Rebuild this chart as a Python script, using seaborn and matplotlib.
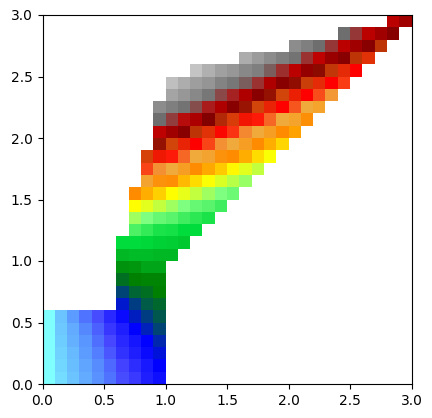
import numpy as np
import pandas as pd
import matplotlib
matplotlib.use("Agg")
import matplotlib.pyplot as plt
from matplotlib.colors import LinearSegmentedColormap
import seaborn as sns

# colour ramp, one colour per integer level
ramp = ["#80ffff", "#69beff", "#5587ff", "#4646ff", "#0000ff", "#003c82",
        "#008000", "#00dc3c", "#80ff80", "#ffff00", "#ff8c00", "#f0aa3c",
        "#ff0000", "#d2460a", "#820000", "#be0000", "#6e6e6e", "#c8c8c8"]

tick_labels = ["0.0", "0.5", "1.0", "1.5", "2.0", "2.5", "3.0"]

# first filled column of each row, bottom row first
row_start = [0, 0, 0, 0, 0, 0, 6, 6, 6, 6, 6, 6, 7, 7, 7, 7, 8, 8, 8, 9,
             9, 9, 9, 10, 10, 12, 16, 20, 24, 28]

# level of each filled cell, bottom row first
row_levels = [
    [0, 0.54, 0.92, 1.36, 1.82, 2.31, 2.92, 3.2, 3.57, 3.8],
    [0, 0.62, 1.0, 1.45, 1.92, 2.46, 3.07, 3.36, 3.64, 4.0],
    [0, 0.69, 1.09, 1.64, 2.15, 2.77, 3.29, 3.57, 3.86, 4.3],
    [0, 0.77, 1.27, 1.73, 2.38, 3.0, 3.43, 3.71, 4.0, 4.65],
    [0, 0.85, 1.36, 2.0, 2.62, 3.21, 3.57, 4.0, 4.55, 5.1],
    [0, 0.92, 1.64, 2.31, 2.92, 3.43, 3.86, 4.5, 5.0, 5.4],
    [4.4, 5.0, 5.45, 5.65],
    [5.1, 5.6, 5.75, 6.0],
    [5.75, 6.0, 6.05, 6.05],
    [6.2, 6.25, 6.4, 6.4],
    [6.6, 6.65, 6.65, 6.6, 6.6],
    [7.0, 7.0, 6.95, 6.9, 6.85, 6.8],
    [7.6, 7.4, 7.2, 7.15, 7.0, 7.0],
    [8.25, 8.0, 7.8, 7.7, 7.5, 7.35, 7.2],
    [9.0, 8.77, 8.5, 8.25, 8.0, 7.8, 7.7, 7.5],
    [10.0, 9.7, 9.4, 9.0, 8.8, 8.5, 8.25, 8.0, 7.85],
    [10.8, 10.2, 10.05, 9.6, 9.3, 8.95, 8.7, 8.45, 8.2],
    [11.6, 11.15, 11.0, 10.6, 10.0, 9.75, 9.45, 9.05, 8.77, 8.5],
    [12.9, 12.35, 11.85, 11.4, 11.0, 10.8, 10.2, 10.0, 9.7, 9.3, 8.95],
    [13.75, 13.0, 12.5, 12.0, 11.6, 11.15, 11.0, 10.6, 10.0, 9.7, 9.35],
    [15.0, 14.5, 14.1, 13.25, 12.7, 12.1, 11.7, 11.2, 11.0, 10.6, 10.0, 9.8],
    [16.0, 15.55, 15.1, 14.7, 14.0, 13.4, 12.85, 12.3, 11.85, 11.4, 11.0, 10.75, 10.1],
    [16.33, 16.17, 16.05, 15.7, 15.25, 14.75, 14.1, 13.7, 13.0, 12.5, 12.0, 11.5, 11.0, 10.75],
    [16.6, 16.45, 16.28, 16.1, 15.65, 15.3, 14.75, 14.1, 13.75, 13.0, 12.45, 12.0, 11.55, 11.1],
    [16.9, 16.7, 16.52, 16.42, 16.22, 16.1, 15.85, 15.45, 14.75, 14.1, 13.8, 13.1, 12.6, 12.0, 11.65],
    [16.95, 16.72, 16.55, 16.45, 16.28, 16.17, 15.85, 15.42, 14.95, 14.3, 13.85, 13.2, 12.6, 12.0],
    [16.67, 16.5, 16.33, 16.17, 16.05, 15.45, 15.0, 14.4, 14.1, 13.25, 12.7],
    [16.33, 16.17, 16.0, 15.5, 14.95, 14.5, 14.1, 13.25],
    [16.0, 15.5, 14.95, 14.5, 14.05],
    [14.95, 14.5],
]

grid = np.full((30, 30), np.nan)
for r, (start, levels) in enumerate(zip(row_start, row_levels)):
    grid[r, start:start + len(levels)] = levels
df = pd.DataFrame(grid)

cmap = LinearSegmentedColormap.from_list("ramp", ramp, N=1024)

fig = plt.figure(figsize=(4.32, 4.18), dpi=100)
ax = fig.add_axes([42.5 / 432, 34 / 418, 369 / 432, 369 / 418])
sns.heatmap(df, ax=ax, cmap=cmap, vmin=0, vmax=len(ramp) - 1, cbar=False,
            xticklabels=False, yticklabels=False)

ax.set_xlim(0, 30)
ax.set_ylim(0, 30)
ax.set_xticks(np.arange(0, 31, 5))
ax.set_yticks(np.arange(0, 31, 5))
ax.set_xticklabels(tick_labels, rotation=0)
ax.set_yticklabels(tick_labels, rotation=0)
ax.tick_params(length=3.5, width=0.8, labelsize=10)
ax.set_xlabel("")
ax.set_ylabel("")
for spine in ax.spines.values():
    spine.set_visible(True)
    spine.set_linewidth(0.8)
    spine.set_color("black")

fig.savefig("out.png", dpi=100)
plt.close(fig)
